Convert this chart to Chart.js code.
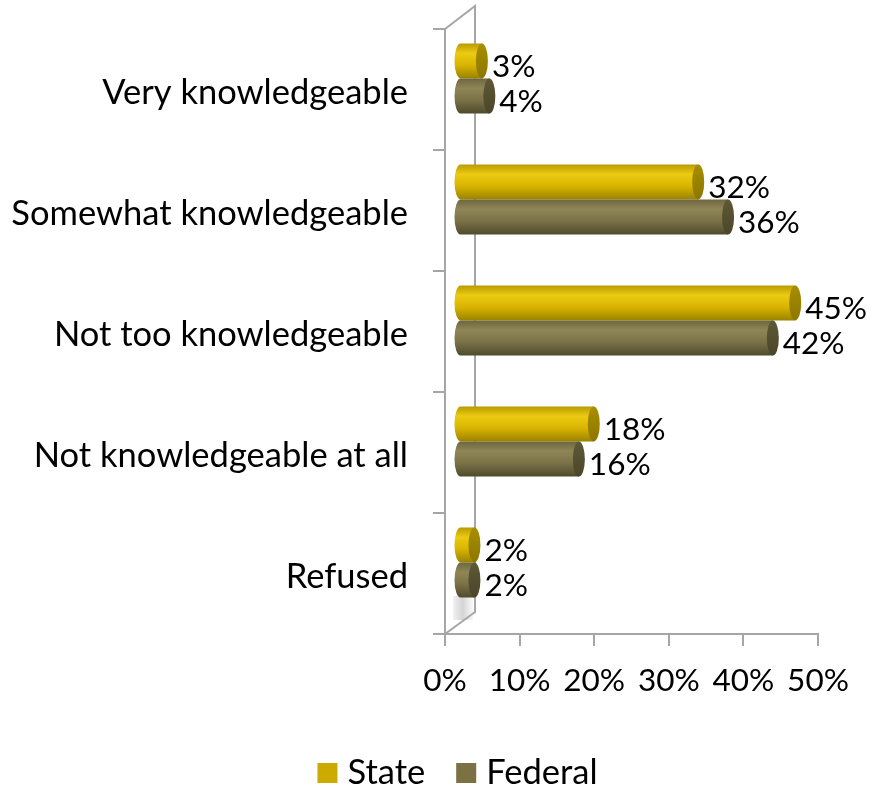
<!DOCTYPE html>
<html><head><meta charset="utf-8">
<script src="https://cdn.jsdelivr.net/npm/chart.js@4/dist/chart.umd.min.js"></script>
<style>html,body{margin:0;padding:0;background:#fff}#wrap{width:873px;height:789px}</style>
</head><body><div id="wrap"><canvas id="c" width="873" height="789"></canvas></div>
<script>
const categories = ["Very knowledgeable","Somewhat knowledgeable","Not too knowledgeable","Not knowledgeable at all","Refused"];
const stateValues = [3,32,45,18,2];
const federalValues = [4,36,42,16,2];
const seriesNames = ["State","Federal"];
const xTickValues = [0,10,20,30,40,50];

const FONT = "Lato";
const FS = 31.5;     // numbers
const FSL = 34.5;    // words
const AXIS = "#A6A6A6";
const palettes = [
  {legend:"#CCAA00", body:["#B89A00","#ECCB12","#D8B400","#9A8200"], cap:["#A88E00","#8C7600"]},
  {legend:"#7B7142", body:["#6E6640","#8F8657","#7A7147","#4E4A2C"], cap:["#5E5837","#4A4629"]}
];
const DX = 14.5, DY = -11, RX = 6;

function cylinder(ctx, x0, x1, yc, h, p) {
  const top = yc - h/2, bot = yc + h/2, ry = h/2;
  const g = ctx.createLinearGradient(0, top, 0, bot);
  g.addColorStop(0, p.body[0]); g.addColorStop(0.28, p.body[1]);
  g.addColorStop(0.62, p.body[2]); g.addColorStop(1, p.body[3]);
  ctx.beginPath();
  ctx.moveTo(x1, top);
  ctx.lineTo(x0, top);
  ctx.ellipse(x0, yc, RX, ry, 0, -Math.PI/2, Math.PI/2, true);
  ctx.lineTo(x1, bot);
  ctx.closePath();
  ctx.fillStyle = g; ctx.fill();
  const cg = ctx.createLinearGradient(0, top, 0, bot);
  cg.addColorStop(0, p.cap[0]); cg.addColorStop(1, p.cap[1]);
  ctx.beginPath();
  ctx.ellipse(x1, yc, RX, ry, 0, 0, Math.PI*2);
  ctx.fillStyle = cg; ctx.fill();
}

const cylPlugin = {
  id: 'cyl',
  beforeDatasetsDraw(chart) {
    const ctx = chart.ctx, a = chart.chartArea;
    ctx.save();
    // 3D wall
    ctx.strokeStyle = AXIS; ctx.lineWidth = 2;
    ctx.beginPath();
    ctx.moveTo(a.left, a.top); ctx.lineTo(a.left + 30, a.top - 23);
    ctx.lineTo(a.left + 30, a.bottom - 22); ctx.lineTo(a.left, a.bottom);
    ctx.stroke();
    // floor shadow
    const fg = ctx.createLinearGradient(a.left + 8, 0, a.left + 28, 0);
    fg.addColorStop(0, "rgba(160,160,160,0.15)");
    fg.addColorStop(0.5, "rgba(160,160,160,0.45)");
    fg.addColorStop(1, "rgba(200,200,200,0.15)");
    ctx.fillStyle = fg;
    ctx.fillRect(a.left + 8, a.bottom - 38, 20, 24);
    chart.data.datasets.forEach((ds, di) => {
      const meta = chart.getDatasetMeta(di);
      meta.data.forEach((el) => {
        const pr = el.getProps(['x','y','base','height'], true);
        cylinder(ctx, pr.base + DX, pr.x + DX, pr.y + DY, pr.height, palettes[di]);
      });
    });
    // value labels
    ctx.fillStyle = "#000";
    ctx.font = FS + "px " + FONT;
    ctx.textBaseline = "middle"; ctx.textAlign = "left";
    chart.data.datasets.forEach((ds, di) => {
      const meta = chart.getDatasetMeta(di);
      meta.data.forEach((el, i) => {
        const pr = el.getProps(['x','y'], true);
        ctx.fillText(ds.data[i] + "%", pr.x + DX + RX + 4, pr.y + DY + 6);
      });
    });
    ctx.restore();
    return false;
  },
  afterDraw(chart) {
    const ctx = chart.ctx;
    ctx.save();
    ctx.font = FSL + "px " + FONT;
    ctx.textBaseline = "middle"; ctx.textAlign = "left";
    const box = 20, gap = 10, sep = 31;
    const widths = chart.data.datasets.map(d => ctx.measureText(d.label).width);
    const total = widths.reduce((s, w) => s + box + gap + w, 0) + sep * (widths.length - 1);
    let x = 457.5 - total / 2;
    const yc = 773;
    chart.data.datasets.forEach((d, i) => {
      ctx.fillStyle = palettes[i].legend;
      ctx.fillRect(x, yc - box/2, box, box);
      ctx.fillStyle = "#000";
      ctx.fillText(d.label, x + box + gap, yc);
      x += box + gap + widths[i] + sep;
    });
    ctx.restore();
  }
};

new Chart(document.getElementById('c'), {
  type: 'bar',
  data: {
    labels: categories,
    datasets: [
      {label: seriesNames[0], data: stateValues, backgroundColor: palettes[0].legend},
      {label: seriesNames[1], data: federalValues, backgroundColor: palettes[1].legend}
    ]
  },
  options: {
    indexAxis: 'y',
    responsive: false,
    animation: false,
    categoryPercentage: 0.58,
    barPercentage: 1,
    layout: {padding: {top: 29, right: 55, bottom: 95, left: 0}},
    plugins: {legend: {display: false}, tooltip: {enabled: false}},
    scales: {
      x: {
        min: 0, max: 50,
        afterBuildTicks(s) { s.ticks = xTickValues.map(v => ({value: v})); },
        afterFit(s) { s.height = 60; s.paddingLeft = 0; s.paddingRight = 0; },
        grid: {display: true, drawOnChartArea: false, tickLength: 12, color: AXIS, lineWidth: 2},
        border: {display: true, color: AXIS, width: 2},
        ticks: {font: {family: FONT, size: FS}, color: "#000", padding: 16, maxRotation: 0, callback: v => v + "%"}
      },
      y: {
        afterFit(s) { s.width = 445; s.paddingTop = 0; s.paddingBottom = 0; },
        grid: {display: true, drawOnChartArea: false, offset: true, tickLength: 12, color: AXIS, lineWidth: 2},
        border: {display: true, color: AXIS, width: 2},
        ticks: {font: {family: FONT, size: FSL}, color: "#000", padding: 25, labelOffset: 3}
      }
    }
  },
  plugins: [cylPlugin]
});
</script></body></html>
